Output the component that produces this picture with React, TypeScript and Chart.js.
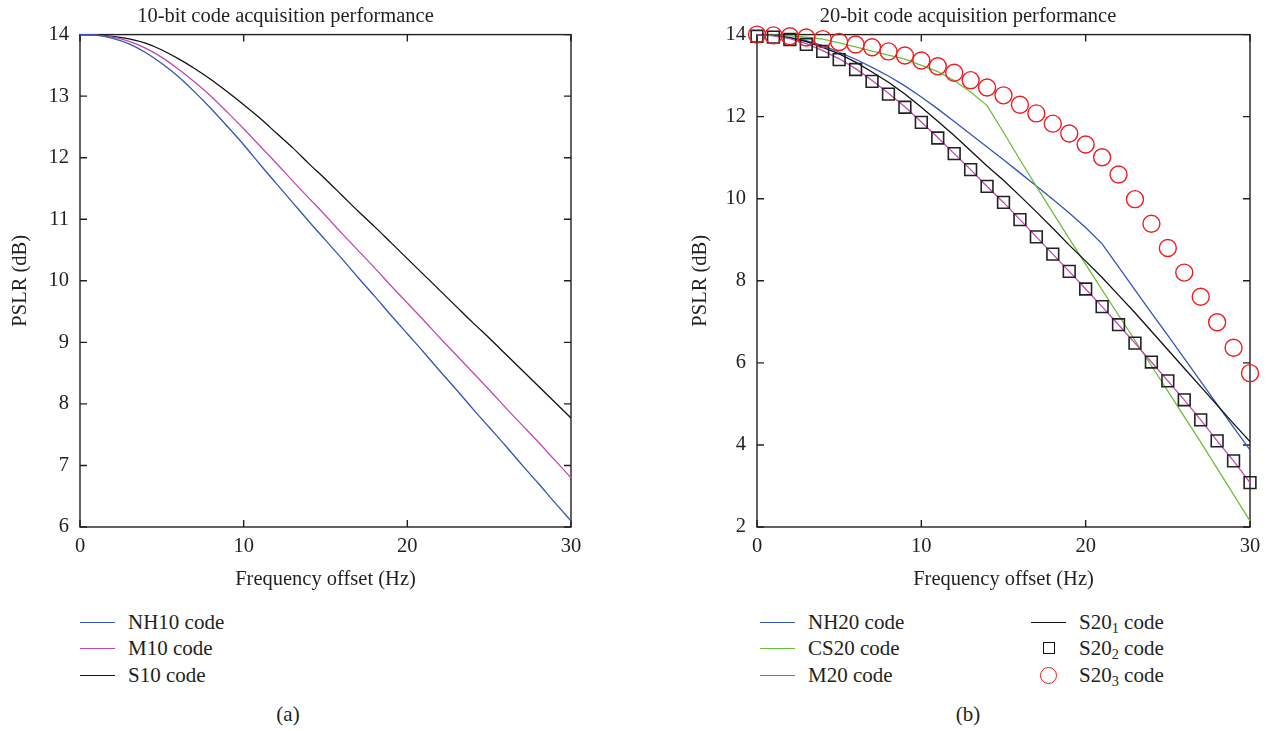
import React, { useEffect, useRef } from 'react';
import { Chart, registerables } from 'chart.js';
Chart.register(...registerables);

// ---------- data ----------
const freq = [0, 1, 2, 3, 4, 5, 6, 7, 8, 9, 10, 11, 12, 13, 14, 15, 16, 17, 18, 19, 20, 21, 22, 23, 24, 25, 26, 27, 28, 29, 30];

const nh10 = [14, 13.99, 13.94, 13.85, 13.71, 13.53, 13.32, 13.07, 12.8, 12.51, 12.21, 11.89, 11.58, 11.27, 10.96, 10.66, 10.36, 10.05, 9.75, 9.44, 9.14, 8.84, 8.53, 8.23, 7.92, 7.62, 7.32, 7.01, 6.71, 6.4, 6.1];
const m10 = [14, 13.99, 13.96, 13.89, 13.78, 13.63, 13.44, 13.23, 13.0, 12.74, 12.47, 12.19, 11.91, 11.62, 11.34, 11.06, 10.77, 10.49, 10.21, 9.92, 9.64, 9.36, 9.07, 8.79, 8.51, 8.23, 7.94, 7.66, 7.38, 7.09, 6.8];
const s10 = [14, 13.99, 13.97, 13.93, 13.86, 13.75, 13.61, 13.45, 13.27, 13.07, 12.86, 12.64, 12.4, 12.16, 11.9, 11.65, 11.39, 11.13, 10.88, 10.62, 10.36, 10.1, 9.84, 9.58, 9.32, 9.07, 8.81, 8.55, 8.29, 8.03, 7.77];

const nh20 = [14, 13.98, 13.93, 13.85, 13.73, 13.57, 13.4, 13.2, 12.99, 12.75, 12.48, 12.19, 11.88, 11.57, 11.26, 10.95, 10.63, 10.31, 9.99, 9.65, 9.3, 8.9, 8.34, 7.78, 7.22, 6.67, 6.11, 5.55, 4.99, 4.43, 3.88];
const cs20 = [14, 13.99, 13.97, 13.94, 13.89, 13.8, 13.7, 13.6, 13.5, 13.4, 13.25, 13.1, 12.88, 12.6, 12.27, 11.62, 10.95, 10.3, 9.66, 9.03, 8.4, 7.78, 7.16, 6.55, 5.93, 5.31, 4.69, 4.07, 3.43, 2.79, 2.15];
const m20 = [14, 13.97, 13.9, 13.78, 13.61, 13.41, 13.17, 12.88, 12.57, 12.24, 11.87, 11.49, 11.1, 10.71, 10.3, 9.91, 9.49, 9.07, 8.65, 8.23, 7.8, 7.37, 6.93, 6.48, 6.02, 5.56, 5.1, 4.61, 4.1, 3.61, 3.08];
const s20_1 = [14, 13.98, 13.92, 13.83, 13.69, 13.53, 13.33, 13.09, 12.84, 12.55, 12.23, 11.89, 11.54, 11.17, 10.8, 10.45, 10.07, 9.68, 9.28, 8.87, 8.48, 8.08, 7.65, 7.22, 6.77, 6.32, 5.87, 5.42, 4.97, 4.52, 4.08];
const s20_2 = [13.96, 13.94, 13.88, 13.76, 13.59, 13.39, 13.15, 12.86, 12.55, 12.23, 11.86, 11.48, 11.1, 10.71, 10.3, 9.91, 9.49, 9.07, 8.65, 8.23, 7.8, 7.37, 6.93, 6.48, 6.02, 5.56, 5.1, 4.61, 4.1, 3.61, 3.08];
const s20_3 = [14, 13.98, 13.96, 13.93, 13.89, 13.82, 13.76, 13.69, 13.59, 13.49, 13.37, 13.23, 13.07, 12.89, 12.71, 12.52, 12.29, 12.08, 11.83, 11.59, 11.32, 11.01, 10.59, 9.99, 9.39, 8.8, 8.2, 7.61, 6.99, 6.37, 5.75];

const titleA = '10-bit code acquisition performance';
const titleB = '20-bit code acquisition performance';
const xTitle = 'Frequency offset (Hz)';
const yTitle = 'PSLR (dB)';

// ---------- style ----------
const FONT = "'Liberation Serif', 'Times New Roman', serif";
const FS = 20.5;
const LEG_FS = 21;
const INK = '#231f20';
const BLUE = '#3355b5';
const MAGENTA = '#bf4ab4';
const GREEN = '#6cbf3c';
const BLACK = '#111111';
const RED = '#ee1c24';

const pts = (ys: number[]) => freq.map((x, i) => ({ x, y: ys[i] }));

const framePlugin = {
  id: 'frameTicks',
  beforeDatasetsDraw(chart: any) {
    const { ctx, chartArea: a, scales } = chart;
    const L = 7;
    ctx.save();
    ctx.strokeStyle = INK;
    ctx.lineWidth = 1.4;
    ctx.strokeRect(a.left, a.top, a.right - a.left, a.bottom - a.top);
    ctx.beginPath();
    scales.x.ticks.forEach((t: any) => {
      const px = scales.x.getPixelForValue(t.value);
      ctx.moveTo(px, a.bottom); ctx.lineTo(px, a.bottom - L);
      ctx.moveTo(px, a.top); ctx.lineTo(px, a.top + L);
    });
    scales.y.ticks.forEach((t: any) => {
      const py = scales.y.getPixelForValue(t.value);
      ctx.moveTo(a.left, py); ctx.lineTo(a.left + L, py);
      ctx.moveTo(a.right, py); ctx.lineTo(a.right - L, py);
    });
    ctx.stroke();
    ctx.restore();
  },
};

function makeConfig(o: {
  title: string; datasets: any[]; yMin: number; yMax: number; yStep: number;
  yWidth: number; yTitlePad: number; rightPad: number;
}) {
  const font = { family: FONT, size: FS };
  return {
    type: 'line',
    data: { datasets: o.datasets },
    plugins: [framePlugin],
    options: {
      responsive: false,
      animation: false,
      devicePixelRatio: 1,
      layout: { padding: { left: 0, right: o.rightPad, top: 0, bottom: 0 } },
      plugins: {
        legend: { display: false },
        tooltip: { enabled: false },
        title: {
          display: true, text: o.title, color: INK, font: { ...font, weight: 'normal' },
          padding: { top: 4, bottom: 6 },
        },
      },
      scales: {
        x: {
          type: 'linear', min: 0, max: 30,
          grid: { display: false, drawTicks: false },
          border: { display: false },
          ticks: { stepSize: 10, color: INK, font, padding: 7, maxRotation: 0 },
          title: { display: true, text: xTitle, color: INK, font, padding: { top: 8, bottom: 8 } },
          afterFit: (s: any) => { s.height = 73; s.paddingLeft = 0; s.paddingRight = 0; },
        },
        y: {
          type: 'linear', min: o.yMin, max: o.yMax,
          grid: { display: false, drawTicks: false },
          border: { display: false },
          ticks: { stepSize: o.yStep, color: INK, font, padding: 11 },
          title: { display: true, text: yTitle, color: INK, font, padding: { top: o.yTitlePad, bottom: o.yTitlePad } },
          afterFit: (s: any) => { s.width = o.yWidth; s.paddingTop = 0; s.paddingBottom = 0; },
        },
      },
    },
  };
}

const lineDs = (label: string, ys: number[], color: string, smooth: boolean) => ({
  label, data: pts(ys), borderColor: color, backgroundColor: color, borderWidth: 1.3,
  pointRadius: 0, showLine: true, fill: false,
  tension: 0, cubicInterpolationMode: smooth ? 'monotone' : 'default', clip: false,
});

function PlotCanvas({ config, left, width, height }: { config: any; left: number; width: number; height: number }) {
  const ref = useRef<HTMLCanvasElement>(null);
  useEffect(() => {
    const c = new Chart(ref.current as HTMLCanvasElement, config);
    return () => c.destroy();
  }, []);
  return (
    <canvas ref={ref} width={width} height={height}
      style={{ position: 'absolute', left, top: 0, width, height }} />
  );
}

const textStyle: React.CSSProperties = { fontFamily: FONT, fontSize: LEG_FS, color: INK, whiteSpace: 'nowrap' };

function LegendRow({ x, y, icon, children }: { x: number; y: number; icon: React.ReactNode; children: React.ReactNode }) {
  return (
    <div style={{ position: 'absolute', left: x, top: y - 12, height: 24, display: 'flex', alignItems: 'center', ...textStyle }}>
      <div style={{ width: 35, height: 24, position: 'relative', display: 'flex', alignItems: 'center', justifyContent: 'center' }}>{icon}</div>
      <span style={{ marginLeft: 13 }}>{children}</span>
    </div>
  );
}

const lineIcon = (c: string) => <div style={{ width: 35, borderTop: `1.5px solid ${c}` }} />;
const squareIcon = <div style={{ width: 10, height: 10, border: `1.5px solid ${BLACK}` }} />;
const circleIcon = <div style={{ width: 15, height: 15, borderRadius: '50%', border: `1.4px solid ${RED}` }} />;
const sub = (d: string) => <sub style={{ fontSize: '0.68em', verticalAlign: '-0.3em', lineHeight: 0 }}>{d}</sub>;

export default function App() {
  const cfgA = makeConfig({
    title: titleA, yMin: 6, yMax: 14, yStep: 1, yWidth: 80, yTitlePad: 8, rightPad: 29,
    datasets: [
      lineDs('NH10 code', nh10, BLUE, true),
      lineDs('M10 code', m10, MAGENTA, true),
      lineDs('S10 code', s10, BLACK, true),
    ],
  });
  const cfgB = makeConfig({
    title: titleB, yMin: 2, yMax: 14, yStep: 2, yWidth: 71, yTitlePad: 2, rightPad: 17,
    datasets: [
      {
        label: 'S20_3 code', data: pts(s20_3), showLine: false, pointStyle: 'circle', pointRadius: 8.5,
        pointBorderColor: RED, pointBackgroundColor: 'rgba(0,0,0,0)', pointBorderWidth: 1.4, clip: false,
      },
      {
        label: 'S20_2 code', data: pts(s20_2), showLine: false, pointStyle: 'rect', pointRadius: 8.3,
        pointBorderColor: '#222', pointBackgroundColor: 'rgba(0,0,0,0)', pointBorderWidth: 1.6, clip: false,
      },
      lineDs('M20 code', m20, MAGENTA, false),
      lineDs('S20_1 code', s20_1, BLACK, false),
      lineDs('CS20 code', cs20, GREEN, false),
      lineDs('NH20 code', nh20, BLUE, false),
    ],
  });

  return (
    <div style={{ position: 'absolute', left: 0, top: 0, width: 1267, height: 731, overflow: 'hidden', background: '#fff' }}>
      <PlotCanvas config={cfgA} left={0} width={600} height={600} />
      <PlotCanvas config={cfgB} left={686} width={581} height={600} />

      <LegendRow x={80} y={622} icon={lineIcon(BLUE)}>NH10 code</LegendRow>
      <LegendRow x={80} y={648} icon={lineIcon(MAGENTA)}>M10 code</LegendRow>
      <LegendRow x={80} y={675} icon={lineIcon(BLACK)}>S10 code</LegendRow>

      <LegendRow x={760} y={622} icon={lineIcon(BLUE)}>NH20 code</LegendRow>
      <LegendRow x={760} y={648} icon={lineIcon(GREEN)}>CS20 code</LegendRow>
      <LegendRow x={760} y={675} icon={lineIcon(MAGENTA)}>M20 code</LegendRow>

      <LegendRow x={1031} y={622} icon={lineIcon(BLACK)}>S20{sub('1')} code</LegendRow>
      <LegendRow x={1031} y={648} icon={squareIcon}>S20{sub('2')} code</LegendRow>
      <LegendRow x={1031} y={675} icon={circleIcon}>S20{sub('3')} code</LegendRow>

      <div style={{ position: 'absolute', left: 238, width: 100, top: 702, textAlign: 'center', ...textStyle }}>(a)</div>
      <div style={{ position: 'absolute', left: 918, width: 100, top: 702, textAlign: 'center', ...textStyle }}>(b)</div>
    </div>
  );
}
